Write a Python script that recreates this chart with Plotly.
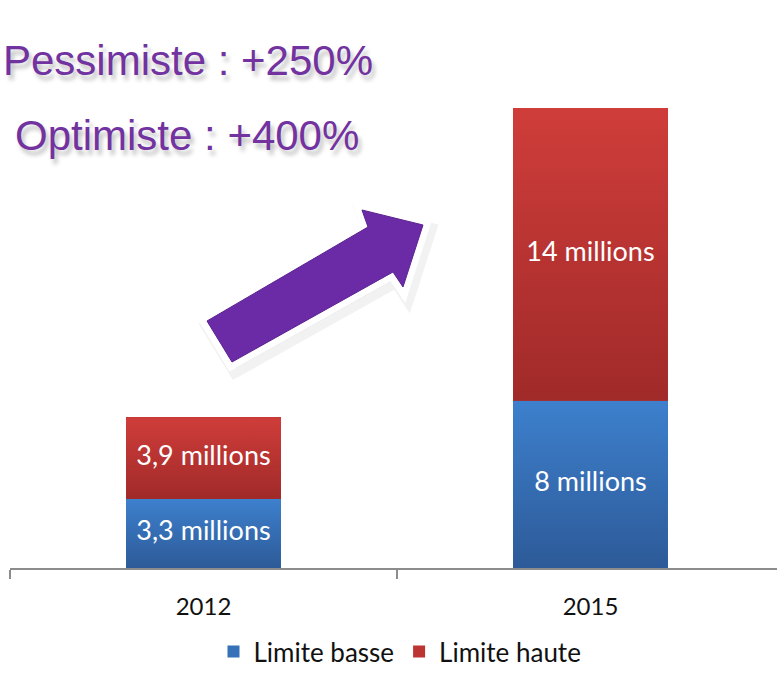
import plotly.graph_objects as go

# Data (millions)
years = ["2012", "2015"]
limite_basse = [3.3, 8]
limite_haute = [3.9, 14]
series_names = ["Limite basse", "Limite haute"]
scenario_lines = ["Pessimiste : +250%", "Optimiste : +400%"]

W, H = 777, 675
M = dict(l=10, r=0, t=60, b=107, autoexpand=False)
BAR_W = 0.4
X_RANGE = [-0.5, 1.482]
Y_RANGE = [0, 24.3]

styles = {
    "Limite basse": dict(solid="#3570B8", top="#3D80CD", bottom="#2D5A98"),
    "Limite haute": dict(solid="#BC3533", top="#CF3D3A", bottom="#A02A29"),
}


def paper(px, py):
    """Convert page pixels to paper coordinates of the plotting area."""
    pw = W - M["l"] - M["r"]
    ph = H - M["t"] - M["b"]
    return (px - M["l"]) / pw, (H - M["b"] - py) / ph


def fmt(v):
    return f"{v:g}".replace(".", ",") + " millions"


fig = go.Figure()
xs = list(range(len(years)))

# stacked bars
for name, vals in zip(series_names, [limite_basse, limite_haute]):
    fig.add_trace(go.Bar(
        x=xs, y=vals, name=name, width=BAR_W,
        marker=dict(color=styles[name]["solid"], line=dict(width=0)),
        hoverinfo="skip",
    ))

# vertical gradient shading and value labels for each segment
base = [0.0] * len(years)
lab_x, lab_y, lab_t = [], [], []
for name, vals in zip(series_names, [limite_basse, limite_haute]):
    st = styles[name]
    for i, v in enumerate(vals):
        x0, x1 = xs[i] - BAR_W / 2, xs[i] + BAR_W / 2
        y0, y1 = base[i], base[i] + v
        fig.add_trace(go.Scatter(
            x=[x0, x1, x1, x0, x0], y=[y0, y0, y1, y1, y0],
            mode="lines", fill="toself", line=dict(width=0),
            fillgradient=dict(type="vertical",
                              colorscale=[[0, st["bottom"]], [1, st["top"]]]),
            showlegend=False, hoverinfo="skip",
        ))
        lab_x.append(xs[i])
        lab_y.append(y0 + v / 2)
        lab_t.append(fmt(v))
        base[i] = y1

fig.add_trace(go.Scatter(
    x=lab_x, y=lab_y, text=lab_t, mode="text",
    textfont=dict(family="Lato", size=27, color="white"),
    showlegend=False, hoverinfo="skip",
))

# rising arrow between the two years
arrow_px = [(207, 321), (368, 227), (362, 210), (423, 225),
            (403, 287), (393, 272), (232, 362)]


def path(pts, dx=0, dy=0):
    p = [paper(x + dx, y + dy) for x, y in pts]
    return "M " + " L ".join(f"{a:.5f},{b:.5f}" for a, b in p) + " Z"


fig.add_shape(type="path", xref="paper", yref="paper", path=path(arrow_px, 4, 6),
              fillcolor="rgba(0,0,0,0.08)", line=dict(color="rgba(0,0,0,0.05)", width=18),
              layer="above")
fig.add_shape(type="path", xref="paper", yref="paper", path=path(arrow_px),
              fillcolor="white", line=dict(color="white", width=14), layer="above")
fig.add_shape(type="path", xref="paper", yref="paper", path=path(arrow_px),
              fillcolor="#6B2AA6", line=dict(color="#5C2290", width=1), layer="above")

# scenario headings
for txt, (px, py) in zip(scenario_lines, [(1, 60), (13, 136)]):
    ax, ay = paper(px, py)
    fig.add_annotation(
        text=txt, xref="paper", yref="paper", x=ax, y=ay,
        xanchor="left", yanchor="middle", showarrow=False,
        font=dict(family="Liberation Sans", size=42, color="#7232A0",
                  shadow="3px 5px 4px rgba(0,0,0,0.25)"),
    )

# legend box sits flush with the bottom edge of the page
lx, ly = paper(400, H)
fig.update_layout(
    width=W, height=H, margin=M,
    barmode="stack",
    plot_bgcolor="white", paper_bgcolor="white",
    showlegend=True,
    legend=dict(orientation="h", x=lx, y=ly, xanchor="center", yanchor="bottom",
                traceorder="normal", bgcolor="rgba(0,0,0,0)",
                font=dict(family="Lato", size=26, color="#111111"),
                itemclick=False, itemdoubleclick=False),
    xaxis=dict(
        range=X_RANGE, tickmode="array", tickvals=xs, ticktext=years,
        ticks="", showgrid=False, zeroline=False,
        showline=True, linecolor="#8C8C8C", linewidth=1.5,
        tickfont=dict(family="Lato", size=24, color="#111111"),
        ticklabelstandoff=16,
        minor=dict(tickmode="array", tickvals=[-0.5, 0.5, 1.5], ticks="outside",
                   ticklen=9, tickwidth=1.5, tickcolor="#8C8C8C", showgrid=False),
    ),
    yaxis=dict(range=Y_RANGE, visible=False, showgrid=False, zeroline=False),
)

fig.write_html("out.html")
